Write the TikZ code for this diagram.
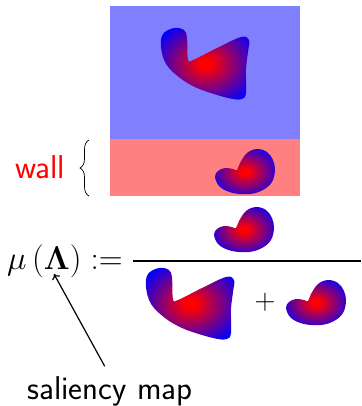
\RequirePackage{fix-cm}
\documentclass[tikz,border=0pt]{standalone}
\usepackage{tikz}
\usetikzlibrary{
	arrows.meta,
	positioning,
	decorations.pathreplacing
}
\usepackage{xcolor}

\pgfdeclareradialshading{blobshade}{\pgfpoint{0bp}{0bp}}{color(0bp)=(red); color(3bp)=(red); color(31bp)=(blue); color(50bp)=(blue)}

\begin{document}
\begin{tikzpicture}[x=1pt,y=-1pt,
		big/.style={font=\fontsize{33}{40}\selectfont\sffamily, inner sep=0pt},
		bigblob/.pic={
			\shade[shading=blobshade] plot[smooth cycle, tension=0.6] coordinates {
				(-44,-17) (-42,-30) (-31,-36) (-21,-34) (-18,-26) (-17,-5) (-12,-4)
				(12,-16) (36,-27) (44,-24) (43,-12) (41,5) (41,29) (37,35)
				(28,35) (12,31) (-8,24) (-25,14) (-39,0)};
		},
		smallblob/.pic={
			\shade[shading=blobshade] plot[smooth cycle, tension=0.6] coordinates {
				(-8,-1) (-5,-8) (2,-18) (12,-22) (22,-19) (28,-11) (30,-1)
				(27,11) (18,19) (5,23) (-12,22) (-25,16) (-30,6) (-27,0)
				(-20,-3) (-12,-2)};
		}]
		
		\useasboundingbox (0,0) rectangle (361,406);
		
		% scene and wall band
		\fill[blue!50] (110,6) rectangle (300,139);
		\fill[red!50] (110,139) rectangle (300,196);
		\pic at (205,64) {bigblob};
		\pic at (245,171) {smallblob};
		
		\node[big, text=red, anchor=base] (wall) at (40,178) {wall};
		\draw[decorate, decoration={brace, amplitude=9pt}, line width=0.7pt]
		(89,196) -- (89,140);
		
		% saliency ratio
		\node[big, anchor=base west] (mu) at (7,269) {$\mu\left(\mathbf{\Lambda}\right) :=$};
		\coordinate (lamtip) at (54,274);
		\draw[line width=1.2pt] (133,261) -- (361,261);
		\pic at (244,229) {smallblob};
		\pic at (190,304) {bigblob};
		\node[inner sep=0pt, font=\fontsize{29}{35}\selectfont] (plus) at (265,302) {$+$};
		\pic at (316,302) {smallblob};
		
		\node[big, anchor=base] (saliency) at (110,399) {saliency map};
		\draw[-{To[length=5pt,width=9pt]}, line width=1.2pt, shorten <=11pt]
		(saliency.north) -- (lamtip);
		
	\end{tikzpicture}
\end{document}
